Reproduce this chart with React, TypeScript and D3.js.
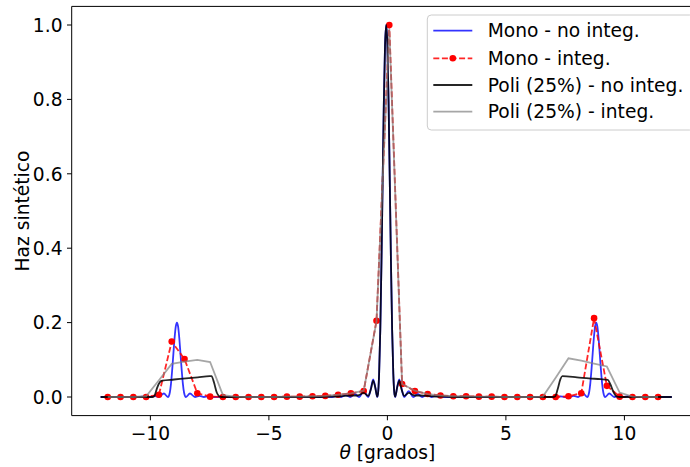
import React from 'react';
import * as d3 from 'd3';

const W = 690;
const H = 467;

// Mono - no integ. (blue) [theta, value]
const monoNoInteg: [number, number][] = [
  [-12.1, 0], [-10.5, 0], [-10.21, 0.0016], [-10.02, 0], [-9.83, 0.003], [-9.64, 0], [-9.43, 0.0094], [-9.26, 0],
  [-9.23, 0.0014], [-9.18, 0.012], [-9.13, 0.036], [-9.08, 0.073], [-9.03, 0.116], [-8.98, 0.158], [-8.93, 0.189],
  [-8.88, 0.2], [-8.83, 0.189], [-8.78, 0.158], [-8.73, 0.116], [-8.68, 0.073], [-8.63, 0.036], [-8.58, 0.012],
  [-8.53, 0.0014], [-8.5, 0], [-8.33, 0.0094], [-8.12, 0], [-7.93, 0.003], [-7.74, 0], [-7.55, 0.0016], [-7.36, 0],
  [-5.0, 0], [-3.0, 0], [-2.33, 0], [-2.14, 0.003], [-1.95, 0], [-1.76, 0.005], [-1.57, 0], [-1.38, 0.008], [-1.19, 0],
  [-1.0, 0.016], [-0.81, 0], [-0.7, 0.022], [-0.6, 0.047], [-0.51, 0.026], [-0.43, 0], [-0.4, 0.007], [-0.35, 0.061],
  [-0.3, 0.181], [-0.25, 0.363], [-0.2, 0.582], [-0.15, 0.792], [-0.1, 0.945], [-0.05, 1.0], [0.0, 0.945],
  [0.05, 0.792], [0.1, 0.582], [0.15, 0.363], [0.2, 0.181], [0.25, 0.061], [0.3, 0.007], [0.33, 0], [0.41, 0.026],
  [0.5, 0.047], [0.6, 0.022], [0.71, 0], [0.9, 0.016], [1.09, 0], [1.28, 0.008], [1.47, 0], [1.66, 0.005], [1.85, 0],
  [2.04, 0.003], [2.23, 0], [3.0, 0], [5.0, 0], [7.1, 0], [7.29, 0.0016], [7.48, 0], [7.67, 0], [7.86, 0.003],
  [8.05, 0], [8.26, 0.0094], [8.43, 0], [8.46, 0.0014], [8.51, 0.012], [8.56, 0.036], [8.61, 0.073], [8.66, 0.116],
  [8.71, 0.158], [8.76, 0.189], [8.81, 0.2], [8.86, 0.189], [8.91, 0.158], [8.96, 0.116], [9.01, 0.073],
  [9.06, 0.036], [9.11, 0.012], [9.16, 0.0014], [9.19, 0], [9.36, 0.0094], [9.57, 0], [9.76, 0.003], [9.95, 0],
  [10.14, 0.0016], [10.33, 0], [12.0, 0],
];

// Integration grid (degrees)
const integTheta = [
  -11.8, -11.26, -10.72, -10.18, -9.64, -9.1, -8.56, -8.02, -7.48, -6.94, -6.4, -5.86, -5.32, -4.78, -4.24,
  -3.7, -3.16, -2.62, -2.08, -1.54, -1.0, -0.46, 0.08, 0.62, 1.16, 1.7, 2.24, 2.78, 3.32, 3.86, 4.4, 4.94,
  5.48, 6.02, 6.56, 7.1, 7.64, 8.18, 8.72, 9.26, 9.8, 10.34, 10.88, 11.42,
];

// Mono - integ. (red dashed with dots)
const monoInteg = [
  0, 0, 0, 0, 0.006, 0.149, 0.102, 0.01, 0.001, 0, 0, 0, 0, 0, 0.001,
  0.001, 0.002, 0.003, 0.006, 0.01, 0.016, 0.205, 1.0, 0.035, 0.016, 0.008, 0.004, 0.002, 0.002, 0.001, 0.001, 0,
  0, 0, 0, 0, 0.002, 0.01, 0.212, 0.03, 0.001, 0, 0, 0,
];

// Poli (25%) - integ. (gray)
const poliInteg = [
  0, 0, 0, 0.002, 0.045, 0.089, 0.095, 0.1, 0.094, 0.005, 0.001, 0, 0, 0, 0.001,
  0.001, 0.002, 0.003, 0.006, 0.01, 0.017, 0.203, 0.99, 0.035, 0.017, 0.008, 0.004, 0.002, 0.002, 0.001, 0.001, 0,
  0, 0, 0.001, 0.052, 0.104, 0.098, 0.09, 0.082, 0.012, 0.001, 0, 0,
];

// Poli (25%) - no integ. (black)
const poliNoInteg: [number, number][] = [
  [-12.1, 0], [-9.9, 0], [-9.82, 0.004], [-9.72, 0.024], [-9.6, 0.04], [-9.5, 0.044], [-9.0, 0.047], [-8.5, 0.05],
  [-8.0, 0.053], [-7.5, 0.056], [-7.42, 0.056], [-7.32, 0.04], [-7.2, 0.012], [-7.1, 0.002], [-7.0, 0],
  [-3.0, 0], [-2.5, 0.001], [-2.0, 0.002], [-1.5, 0.004], [-1.25, 0.004], [-1.0, 0.011], [-0.81, 0.003],
  [-0.7, 0.02], [-0.6, 0.044], [-0.51, 0.025], [-0.43, 0.001], [-0.4, 0.007], [-0.35, 0.061], [-0.3, 0.181],
  [-0.25, 0.363], [-0.2, 0.582], [-0.15, 0.792], [-0.1, 0.945], [-0.05, 1.0], [0.0, 0.945], [0.05, 0.792],
  [0.1, 0.582], [0.15, 0.363], [0.2, 0.181], [0.25, 0.061], [0.3, 0.007], [0.33, 0.001], [0.41, 0.025],
  [0.5, 0.044], [0.6, 0.02], [0.71, 0.003], [0.9, 0.011], [1.15, 0.004], [1.4, 0.004], [1.9, 0.002], [2.4, 0.001],
  [3.0, 0], [7.0, 0], [7.08, 0.002], [7.18, 0.02], [7.3, 0.048], [7.38, 0.056], [8.0, 0.053], [8.5, 0.05],
  [9.0, 0.048], [9.3, 0.046], [9.4, 0.035], [9.55, 0.012], [9.68, 0.001], [9.8, 0], [12.0, 0],
];

const xTicks = [-10, -5, 0, 5, 10];
const yTicks = [0, 0.2, 0.4, 0.6, 0.8, 1.0];
const legendLabels = ['Mono - no integ.', 'Mono - integ.', 'Poli (25%) - no integ.', 'Poli (25%) - integ.'];

const FONT = 'DejaVu Sans, sans-serif';
const FS = 18.67;

export default function App() {
  const left = 71.7, right = 703.1, top = 6.4, bottom = 415.6;
  const x = d3.scaleLinear().domain([-13.32, 13.32]).range([left, right]);
  const y = d3.scaleLinear().domain([-0.05, 1.05]).range([bottom, top]);

  const smooth = d3.line<[number, number]>().x(d => x(d[0])).y(d => y(d[1])).curve(d3.curveMonotoneX);
  const straight = d3.line<[number, number]>().x(d => x(d[0])).y(d => y(d[1]));

  const redPts: [number, number][] = integTheta.map((t, i) => [t, monoInteg[i]]);
  const grayPts: [number, number][] = integTheta.map((t, i) => [t, poliInteg[i]]);

  const tickLen = 4.7;
  const legendY = [30.7, 58.3, 85, 111.7];

  return (
    <svg width={W} height={H} style={{ position: 'absolute', left: 0, top: 0, background: '#fff' }} fontFamily={FONT}>
      <defs>
        <clipPath id="plot">
          <rect x={left} y={top} width={right - left} height={bottom - top} />
        </clipPath>
      </defs>
      <rect x={0} y={0} width={W} height={H} fill="#fff" />
      <g clipPath="url(#plot)">
        <path d={smooth(monoNoInteg) || ''} fill="none" stroke="#0000ff" strokeOpacity={0.8} strokeWidth={1.8} />
        <path d={straight(redPts) || ''} fill="none" stroke="#ff0000" strokeOpacity={0.85} strokeWidth={1.8} strokeDasharray="6,2.6" />
        {redPts.map((p, i) => (
          <circle key={i} cx={x(p[0])} cy={y(p[1])} r={3.3} fill="#ff0000" />
        ))}
        <path d={smooth(poliNoInteg) || ''} fill="none" stroke="#000" strokeOpacity={0.85} strokeWidth={1.8} />
        <path d={straight(grayPts) || ''} fill="none" stroke="#808080" strokeOpacity={0.7} strokeWidth={1.8} />
      </g>
      {/* spines */}
      <line x1={left} x2={left} y1={top} y2={bottom} stroke="#000" strokeWidth={1} />
      <line x1={left} x2={right} y1={bottom} y2={bottom} stroke="#000" strokeWidth={1} />
      <line x1={left} x2={right} y1={top} y2={top} stroke="#000" strokeWidth={1} />
      {/* x ticks */}
      {xTicks.map(t => (
        <g key={t}>
          <line x1={x(t)} x2={x(t)} y1={bottom} y2={bottom + tickLen} stroke="#000" strokeWidth={1} />
          <text x={x(t)} y={439.5} fontSize={FS} textAnchor="middle" fill="#000">
            {t < 0 ? '\u2212' + Math.abs(t) : String(t)}
          </text>
        </g>
      ))}
      {/* y ticks */}
      {yTicks.map(t => (
        <g key={t}>
          <line x1={left - tickLen} x2={left} y1={y(t)} y2={y(t)} stroke="#000" strokeWidth={1} />
          <text x={left - tickLen - 4.5} y={y(t)} dy="0.36em" fontSize={FS} textAnchor="end" fill="#000">
            {t.toFixed(1)}
          </text>
        </g>
      ))}
      <text x={(left + right) / 2} y={459} fontSize={FS} textAnchor="middle" fill="#000">
        <tspan fontStyle="italic">θ</tspan> [grados]
      </text>
      <text transform={`translate(29,${(top + bottom) / 2}) rotate(-90)`} fontSize={FS} textAnchor="middle" fill="#000">
        Haz sintético
      </text>
      {/* legend */}
      <rect x={427.3} y={15} width={266.4} height={115} rx={4} fill="#fff" fillOpacity={0.8} stroke="#cccccc" strokeWidth={1} />
      {legendLabels.map((lab, i) => {
        const ly = legendY[i];
        const x1 = 433.3, x2 = 472.3;
        return (
          <g key={lab}>
            {i === 0 && <line x1={x1} x2={x2} y1={ly} y2={ly} stroke="#0000ff" strokeOpacity={0.8} strokeWidth={1.8} />}
            {i === 1 && (
              <g>
                <line x1={x1} x2={x2} y1={ly} y2={ly} stroke="#ff0000" strokeOpacity={0.85} strokeWidth={1.8} strokeDasharray="6,2.6" />
                <circle cx={(x1 + x2) / 2} cy={ly} r={3.3} fill="#ff0000" />
              </g>
            )}
            {i === 2 && <line x1={x1} x2={x2} y1={ly} y2={ly} stroke="#000" strokeOpacity={0.85} strokeWidth={1.8} />}
            {i === 3 && <line x1={x1} x2={x2} y1={ly} y2={ly} stroke="#808080" strokeOpacity={0.7} strokeWidth={1.8} />}
            <text x={487.7} y={ly} dy="0.36em" fontSize={FS} fill="#000">{lab}</text>
          </g>
        );
      })}
    </svg>
  );
}
